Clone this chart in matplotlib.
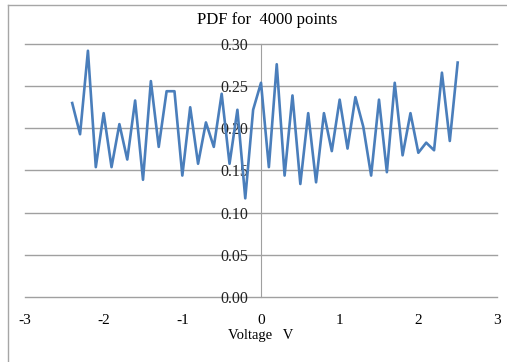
import numpy as np
import matplotlib.pyplot as plt
from matplotlib.lines import Line2D

# Spannungswerte (V) und PDF-Werte
voltage = np.round(np.arange(-2.4, 2.51, 0.1), 1)
pdf = [0.230, 0.193, 0.292, 0.154, 0.218, 0.154, 0.205, 0.163, 0.233, 0.139,
       0.256, 0.178, 0.244, 0.244, 0.144, 0.225, 0.158, 0.207, 0.178, 0.241,
       0.158, 0.222, 0.117, 0.222, 0.254, 0.154, 0.276, 0.144, 0.239, 0.134,
       0.218, 0.136, 0.218, 0.173, 0.234, 0.176, 0.237, 0.202, 0.144, 0.234,
       0.148, 0.254, 0.168, 0.218, 0.171, 0.183, 0.174, 0.266, 0.185, 0.278]
x_ticks = [-3, -2, -1, 0, 1, 2, 3]
y_ticks = [0.00, 0.05, 0.10, 0.15, 0.20, 0.25, 0.30]

plt.rcParams['font.family'] = ['Liberation Serif', 'DejaVu Serif']

fig = plt.figure(figsize=(5.07, 3.62), dpi=100)
# Rahmen des Diagrammbereichs (nur links und oben sichtbar)
bx, by = 7.5 / 507, 1 - 4.5 / 362
fig.lines.append(Line2D([bx, bx], [0, by], transform=fig.transFigure,
                        color='#a6a6a6', linewidth=1.0))
fig.lines.append(Line2D([bx, 1], [by, by], transform=fig.transFigure,
                        color='#a6a6a6', linewidth=1.0))

ax = fig.add_axes([25 / 507, 65 / 362, 472 / 507, 253 / 362])
ax.plot(voltage, pdf, color='#4a7ebb', linewidth=1.9, zorder=3)

ax.set_xlim(-3, 3)
ax.set_ylim(0, 0.30)
ax.set_xticks(x_ticks)
ax.set_xticklabels([str(t) for t in x_ticks])
ax.set_yticks(y_ticks)
ax.set_yticklabels(['%.2f' % t for t in y_ticks])

for y in y_ticks:
    ax.axhline(y, color='#a0a0a0', linewidth=1.0, zorder=0, clip_on=False)

ax.spines['left'].set_position(('data', 0))
ax.spines['left'].set_color('#a0a0a0')
for s in ['top', 'right', 'bottom']:
    ax.spines[s].set_visible(False)

ax.tick_params(axis='x', length=0, labelsize=11, pad=12, labelcolor='#000000')
ax.tick_params(axis='y', length=0, labelsize=11.5, pad=9, labelcolor='#222222')

fig.text(267 / 507, 1 - 20 / 362, 'PDF for  4000 points', fontsize=12,
         ha='center', va='center')
ax.set_xlabel('Voltage   V', fontsize=10.5, labelpad=2)

fig.savefig('out.png', dpi=100)
